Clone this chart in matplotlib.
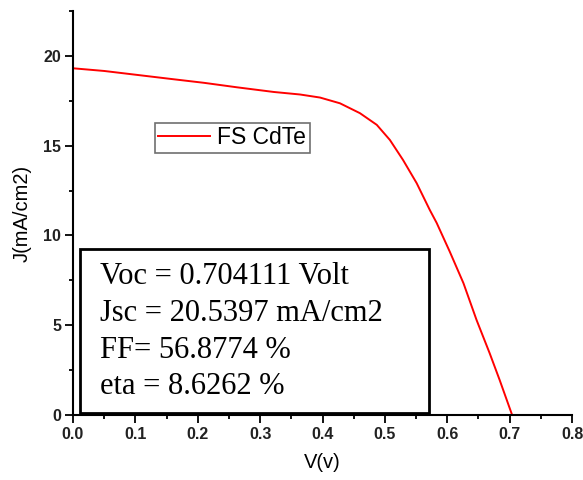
import matplotlib
matplotlib.use("Agg")
import matplotlib.pyplot as plt
from matplotlib.patches import Rectangle
from matplotlib.ticker import MultipleLocator, FormatStrFormatter

# J-V curve of the FS CdTe cell
voltage = [0.0, 0.050, 0.103, 0.156, 0.210, 0.263, 0.322, 0.364, 0.396, 0.428,
           0.460, 0.487, 0.508, 0.529, 0.551, 0.572, 0.583, 0.604, 0.626,
           0.647, 0.668, 0.684, 0.704]
current = [19.31, 19.16, 18.94, 18.72, 18.50, 18.25, 17.99, 17.85, 17.68, 17.36,
           16.81, 16.16, 15.32, 14.21, 12.91, 11.42, 10.70, 9.10, 7.34,
           5.29, 3.44, 1.95, 0.0]
series_label = "FS CdTe"

params = ["Voc = 0.704111 Volt",
          "Jsc = 20.5397 mA/cm2",
          "FF= 56.8774 %",
          "eta = 8.6262 %"]

W, H = 583, 480
fig = plt.figure(figsize=(W / 100, H / 100), dpi=100)
ax = fig.add_axes([73 / W, 1 - 415 / H, (572 - 73) / W, (415 - 11) / H])

ax.plot(voltage, current, color="#ff0000", lw=1.4, label=series_label)

ax.set_xlim(0, 0.8)
ax.set_ylim(0, 22.5)
ax.xaxis.set_major_locator(MultipleLocator(0.1))
ax.xaxis.set_minor_locator(MultipleLocator(0.05))
ax.yaxis.set_major_locator(MultipleLocator(5))
ax.yaxis.set_minor_locator(MultipleLocator(2.5))
ax.xaxis.set_major_formatter(FormatStrFormatter("%.1f"))

for s in ("top", "right"):
    ax.spines[s].set_visible(False)
for s in ("left", "bottom"):
    ax.spines[s].set_linewidth(1.5)
ax.tick_params(which="major", length=5.5, width=1.3, direction="out",
               labelsize=11.5, pad=3)
ax.tick_params(which="minor", length=3, width=1.3, direction="out")
for lab in ax.get_xticklabels() + ax.get_yticklabels():
    lab.set_family("Liberation Sans")
    lab.set_fontweight("bold")
    lab.set_color("#222222")

ax.set_xlabel("V(v)", family="Liberation Sans", fontsize=14.5, labelpad=8)
ax.set_ylabel("J(mA/cm2)", family="Liberation Sans", fontsize=14.5, labelpad=8)

leg = ax.legend(loc="upper left", bbox_to_anchor=(155 / W, 1 - 123 / H),
                bbox_transform=fig.transFigure, borderaxespad=0,
                fancybox=False, framealpha=1, edgecolor="#707070",
                prop={"family": "Liberation Sans", "size": 16.5},
                handlelength=2.23, handletextpad=0.34, borderpad=0.15)
leg.get_frame().set_linewidth(1.2)

box = Rectangle((0.014, 0.005), 0.70, 0.406, transform=ax.transAxes,
                fill=False, edgecolor="black", lw=2, clip_on=False, zorder=5)
ax.add_patch(box)

line_y = [276.7, 313.3, 350.0, 386.7]
for txt, y in zip(params, line_y):
    fig.text(100 / W, 1 - y / H, txt, family="Liberation Serif",
             fontsize=22, va="center", ha="left")

fig.savefig("out.png", dpi=100)
